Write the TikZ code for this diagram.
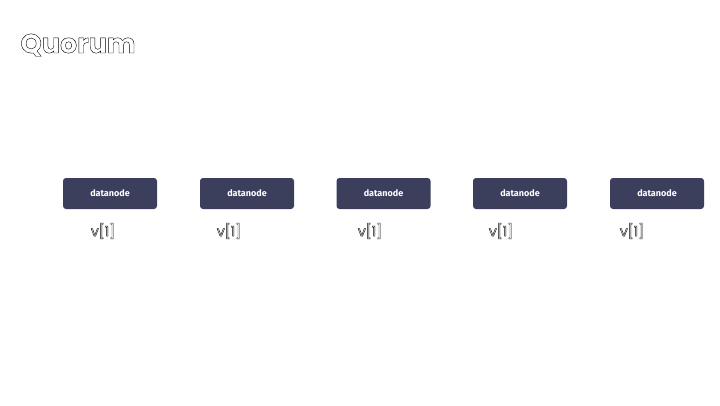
\documentclass[tikz,border=0pt]{standalone}
\usepackage{fontspec}
\setmainfont{Poppins}
\newfontfamily\boxfont{Fira Sans}
\usepackage{tikz}
\definecolor{slate}{HTML}{3B3F5C}
\newcommand{\outl}[1]{\special{pdf:literal direct 1 Tr 0.4 w}#1\special{pdf:literal direct 0 Tr}}
\tikzset{
  dnode/.style={fill=slate, rounded corners=3pt, minimum width=94pt, minimum height=31pt, text=white, font=\boxfont\bfseries\fontsize{9}{10}\selectfont},
  vlabel/.style={font=\fontsize{14}{15}\selectfont, text=black}
}

\begin{document}
\begin{tikzpicture}[x=1pt, y=-1pt]
\useasboundingbox (0, 0) rectangle (720, 405);
\node[font=\bfseries\fontsize{27}{30}\selectfont, text=black, anchor=west] (title) at (17, 45) {\outl{Quorum}};
\node[dnode] (dn1) at (110, 193.5) {datanode};
\node[dnode] (dn2) at (247, 193.5) {datanode};
\node[dnode] (dn3) at (383.5, 193.5) {datanode};
\node[dnode] (dn4) at (520, 193.5) {datanode};
\node[dnode] (dn5) at (657, 193.5) {datanode};
\node[vlabel] (v1) at (103, 231) {\outl{v[1]}};
\node[vlabel] (v2) at (229, 231) {\outl{v[1]}};
\node[vlabel] (v3) at (370, 231) {\outl{v[1]}};
\node[vlabel] (v4) at (501, 231) {\outl{v[1]}};
\node[vlabel] (v5) at (632, 231) {\outl{v[1]}};
\end{tikzpicture}
\end{document}
